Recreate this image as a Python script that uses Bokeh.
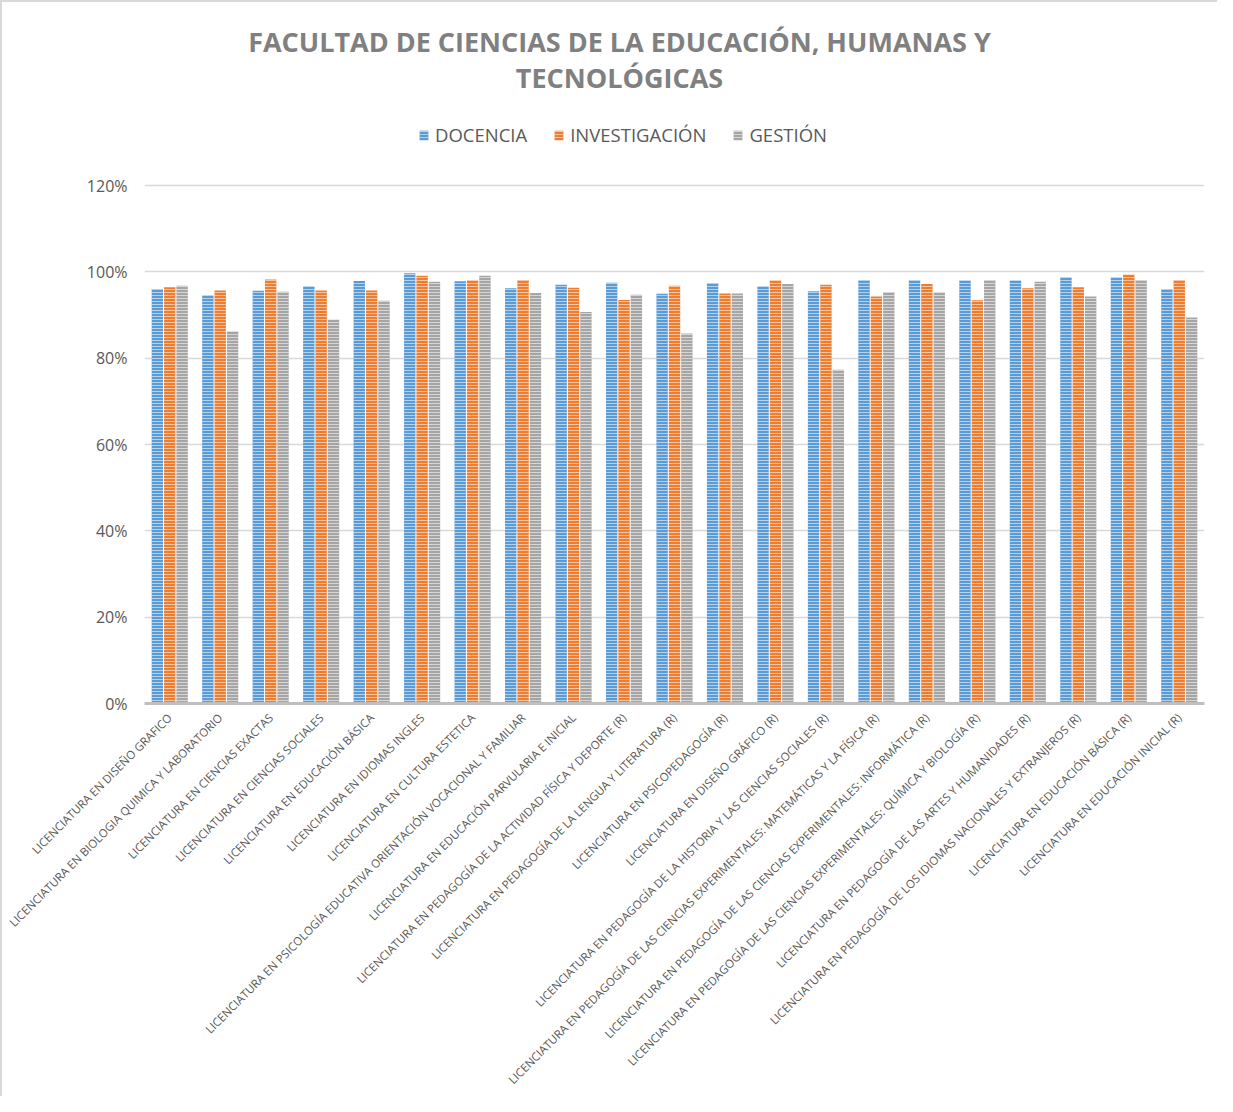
from bokeh.plotting import figure
from bokeh.models import (ColumnDataSource, FactorRange, NumeralTickFormatter, Legend, LegendItem,
                          FixedTicker, Label, Range1d)
from bokeh.transform import dodge
from bokeh.embed import file_html
from bokeh.resources import INLINE

categories = [
    "LICENCIATURA EN DISEÑO GRAFICO",
    "LICENCIATURA EN BIOLOGIA QUIMICA Y LABORATORIO",
    "LICENCIATURA EN CIENCIAS EXACTAS",
    "LICENCIATURA EN CIENCIAS SOCIALES",
    "LICENCIATURA EN EDUCACIÓN BÁSICA",
    "LICENCIATURA EN IDIOMAS INGLES",
    "LICENCIATURA EN CULTURA ESTETICA",
    "LICENCIATURA EN PSICOLOGÍA EDUCATIVA ORIENTACIÓN VOCACIONAL Y FAMILIAR",
    "LICENCIATURA EN EDUCACIÓN PARVULARIA E INICIAL",
    "LICENCIATURA EN PEDAGOGÍA DE LA ACTIVIDAD FÍSICA Y DEPORTE (R)",
    "LICENCIATURA EN PEDAGOGÍA DE LA LENGUA Y LITERATURA (R)",
    "LICENCIATURA EN PSICOPEDAGOGÍA (R)",
    "LICENCIATURA EN DISEÑO GRÁFICO (R)",
    "LICENCIATURA EN PEDAGOGÍA DE LA HISTORIA Y LAS CIENCIAS SOCIALES (R)",
    "LICENCIATURA EN PEDAGOGÍA DE LAS CIENCIAS EXPERIMENTALES: MATEMÁTICAS Y LA FÍSICA (R)",
    "LICENCIATURA EN PEDAGOGÍA DE LAS CIENCIAS EXPERIMENTALES: INFORMÁTICA (R)",
    "LICENCIATURA EN PEDAGOGÍA DE LAS CIENCIAS EXPERIMENTALES: QUÍMICA Y BIOLOGÍA (R)",
    "LICENCIATURA EN PEDAGOGÍA DE LAS ARTES Y HUMANIDADES (R)",
    "LICENCIATURA EN PEDAGOGÍA DE LOS IDIOMAS NACIONALES Y EXTRANJEROS (R)",
    "LICENCIATURA EN EDUCACIÓN BÁSICA (R)",
    "LICENCIATURA EN EDUCACIÓN INICIAL (R)",
]

docencia = [0.960, 0.945, 0.956, 0.966, 0.979, 0.997, 0.978, 0.962, 0.970, 0.975, 0.949,
            0.974, 0.966, 0.955, 0.981, 0.981, 0.980, 0.980, 0.987, 0.987, 0.960]
investigacion = [0.964, 0.957, 0.982, 0.957, 0.957, 0.991, 0.980, 0.981, 0.963, 0.935, 0.968,
                 0.950, 0.980, 0.970, 0.943, 0.972, 0.934, 0.962, 0.964, 0.993, 0.981]
gestion = [0.968, 0.862, 0.954, 0.889, 0.933, 0.977, 0.991, 0.951, 0.907, 0.947, 0.857,
           0.950, 0.972, 0.773, 0.953, 0.952, 0.981, 0.977, 0.943, 0.981, 0.894]

series_names = ["DOCENCIA", "INVESTIGACIÓN", "GESTIÓN"]
title_lines = ["FACULTAD DE CIENCIAS DE LA EDUCACIÓN, HUMANAS Y", "TECNOLÓGICAS"]
y_ticks = [0, 0.2, 0.4, 0.6, 0.8, 1.0, 1.2]

source = ColumnDataSource(data=dict(cat=categories, doc=docencia, inv=investigacion, ges=gestion))

# frame: page y 20 .. 704 ; 0% at 704, 120% at 186
ppu = (704 - 186) / 1.2
y_top = (704 - 20) / ppu

p = figure(
    x_range=FactorRange(*categories),
    y_range=Range1d(0, y_top),
    width=1217, height=1096,
    output_backend="svg",
    toolbar_location=None,
    min_border_left=142, min_border_right=15, min_border_top=17, min_border_bottom=395,
)

colors = ["#5b9bd5", "#ed7d31", "#a5a5a5"]
fields = ["doc", "inv", "ges"]
offsets = [-0.245, 0.0, 0.245]
renderers = []
for f, c, o in zip(fields, colors, offsets):
    r = p.vbar(x=dodge("cat", o, range=p.x_range), top=f, width=0.225, source=source,
               fill_color=c, line_color=None,
               hatch_pattern="horizontal_line", hatch_color="white", hatch_alpha=0.55,
               hatch_scale=3.0, hatch_weight=1)
    renderers.append(r)

for txt, ypage in zip(title_lines, [42, 78]):
    p.add_layout(Label(x=9.41, y=(704 - ypage) / ppu, text=txt, text_align="center",
                       text_baseline="middle", text_font="Open Sans", text_font_size="27px",
                       text_font_style="bold", text_color="#808080"))

legend = Legend(items=[LegendItem(label=n, renderers=[r]) for n, r in zip(series_names, renderers)],
                orientation="horizontal", location=(274, 556))
legend.label_text_font = "Open Sans"
legend.label_text_font_size = "18.5px"
legend.label_text_color = "#595959"
legend.glyph_width = 11
legend.glyph_height = 12
legend.label_standoff = 6
legend.spacing = 26
legend.padding = 0
legend.margin = 0
legend.border_line_color = None
legend.background_fill_alpha = 0
p.add_layout(legend, "center")

p.yaxis.ticker = FixedTicker(ticks=y_ticks)
p.yaxis.formatter = NumeralTickFormatter(format="0%")
p.yaxis.axis_line_color = None
p.yaxis.major_tick_line_color = None
p.yaxis.minor_tick_line_color = None
p.yaxis.major_label_text_font = "Open Sans"
p.yaxis.major_label_text_font_size = "16px"
p.yaxis.major_label_text_color = "#595959"
p.yaxis.major_label_standoff = 11

p.xaxis.axis_line_color = "#bfbfbf"
p.xaxis.axis_line_width = 3
p.xaxis.major_tick_line_color = None
p.xaxis.minor_tick_line_color = None
p.xaxis.major_label_orientation = 0.7854
p.xaxis.major_label_text_font = "Open Sans"
p.xaxis.major_label_text_font_size = "11.5px"
p.xaxis.major_label_text_color = "#595959"
p.xaxis.major_label_standoff = 6

p.xgrid.grid_line_color = None
p.ygrid.ticker = FixedTicker(ticks=y_ticks)
p.ygrid.grid_line_color = "#d9d9d9"
p.ygrid.grid_line_width = 1.5
p.outline_line_color = None
p.styles = {"border-left": "2px solid #d9d9d9", "border-top": "2px solid #d9d9d9"}

open("out.html", "w").write(file_html(p, INLINE))
